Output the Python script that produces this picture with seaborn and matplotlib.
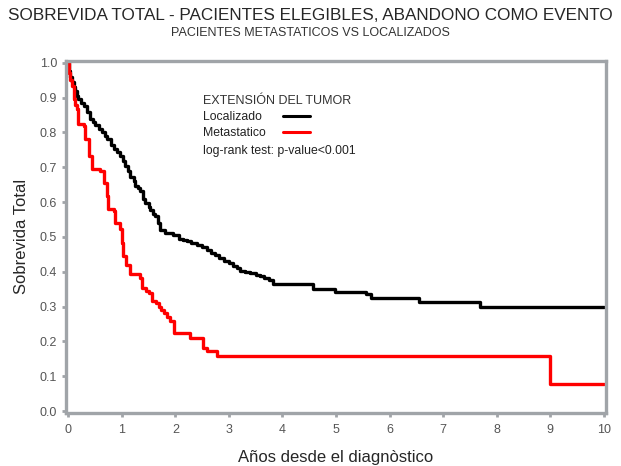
import pandas as pd
import matplotlib
matplotlib.use('Agg')
import matplotlib.pyplot as plt
import seaborn as sns

# Kaplan-Meier steps
loc_t = [0, 0.02, 0.04, 0.07, 0.10, 0.13, 0.16, 0.19, 0.24, 0.29,
         0.35, 0.41, 0.46, 0.50, 0.57, 0.63, 0.68, 0.72, 0.79, 0.85,
         0.91, 0.97, 1.03, 1.06, 1.11, 1.16, 1.22, 1.25, 1.30, 1.34,
         1.40, 1.44, 1.50, 1.53, 1.59, 1.62, 1.67, 1.72, 1.81, 1.96,
         2.06, 2.15, 2.21, 2.30, 2.40, 2.50, 2.59, 2.66, 2.74, 2.82,
         2.90, 3.00, 3.08, 3.15, 3.21, 3.30, 3.40, 3.50, 3.58, 3.66,
         3.75, 3.83, 4.57, 4.98, 5.56, 5.65, 6.55, 7.69, 10.0]
loc_s = [1.0, 0.975, 0.96, 0.945, 0.93, 0.92, 0.905, 0.895, 0.885, 0.875,
         0.86, 0.84, 0.83, 0.822, 0.81, 0.80, 0.79, 0.78, 0.765, 0.752,
         0.745, 0.733, 0.718, 0.704, 0.69, 0.672, 0.66, 0.645, 0.64, 0.632,
         0.61, 0.598, 0.585, 0.578, 0.565, 0.56, 0.54, 0.52, 0.512, 0.505,
         0.495, 0.49, 0.487, 0.482, 0.478, 0.47, 0.462, 0.455, 0.447, 0.44,
         0.432, 0.425, 0.417, 0.41, 0.403, 0.399, 0.396, 0.392, 0.388, 0.382,
         0.375, 0.364, 0.352, 0.343, 0.335, 0.326, 0.314, 0.30, 0.30]

met_t = [0, 0.02, 0.04, 0.07, 0.10, 0.13, 0.16, 0.19, 0.29, 0.32,
         0.38, 0.44, 0.60, 0.66, 0.72, 0.75, 0.85, 0.88, 0.97, 1.00,
         1.03, 1.08, 1.16, 1.34, 1.37, 1.45, 1.50, 1.56, 1.63, 1.69,
         1.74, 1.78, 1.84, 1.90, 1.97, 2.28, 2.51, 2.59, 2.77, 9.00, 10.0]
met_s = [1.0, 0.97, 0.95, 0.934, 0.896, 0.88, 0.867, 0.824, 0.819, 0.781,
         0.733, 0.694, 0.69, 0.656, 0.618, 0.58, 0.575, 0.541, 0.522, 0.484,
         0.445, 0.42, 0.393, 0.383, 0.354, 0.345, 0.34, 0.316, 0.31, 0.30,
         0.29, 0.283, 0.27, 0.259, 0.225, 0.211, 0.182, 0.172, 0.157, 0.078, 0.078]

groups = ['Localizado', 'Metastatico']
colors = ['black', 'red']

df = pd.concat([
    pd.DataFrame({'t': loc_t, 's': loc_s, 'grupo': groups[0]}),
    pd.DataFrame({'t': met_t, 's': met_s, 'grupo': groups[1]}),
])

sns.set_style('white')
plt.rcParams['font.family'] = ['Liberation Sans', 'DejaVu Sans']

fig = plt.figure(figsize=(6.21, 4.66), dpi=100)
ax = fig.add_axes([0.1055, 0.1148, 0.8703, 0.7542])

for g, c in zip(groups, colors):
    sns.lineplot(data=df[df['grupo'] == g], x='t', y='s', color=c, lw=2.4,
                 drawstyle='steps-post', estimator=None, sort=False,
                 legend=False, ax=ax)

ax.set_xlim(-0.05, 10.04)
ax.set_ylim(-0.004, 1.005)
ax.set_xticks(range(0, 11))
ax.set_yticks([i / 10 for i in range(11)])
ax.set_yticklabels([f'{i / 10:.1f}' for i in range(11)])

for sp in ax.spines.values():
    sp.set_color('#a0a4a8')
    sp.set_linewidth(2.4)
ax.tick_params(axis='both', colors='#a0a4a8', labelcolor='#555555',
               labelsize=9, length=3, width=2, direction='out',
               bottom=True, left=True)
ax.tick_params(axis='x', pad=5)
ax.tick_params(axis='y', pad=3)

ax.set_xlabel('Años desde el diagnòstico', fontsize=12, labelpad=10)
ax.set_ylabel('Sobrevida Total', fontsize=12, labelpad=8)

# legend block
ax.text(0.2544, 0.886, 'EXTENSIÓN DEL TUMOR', transform=ax.transAxes,
        va='center', fontsize=9, color='#333333')
for g, c, yy in zip(groups, colors, [0.8407, 0.7952]):
    ax.text(0.2544, yy, g, transform=ax.transAxes, va='center',
            fontsize=8.8, color='#222222')
    ax.plot([0.4024, 0.4524], [yy + 0.003, yy + 0.003], color=c, lw=2.2,
            transform=ax.transAxes)
ax.text(0.2544, 0.744, 'log-rank test: p-value<0.001', transform=ax.transAxes,
        va='center', fontsize=8.8, color='#222222')

fig.text(0.5, 0.966, 'SOBREVIDA TOTAL - PACIENTES ELEGIBLES, ABANDONO COMO EVENTO',
         ha='center', va='center', fontsize=12.3)
fig.text(0.5, 0.93, 'PACIENTES METASTATICOS VS LOCALIZADOS',
         ha='center', va='center', fontsize=9, color='#333333')

fig.savefig('out.png', dpi=100)
